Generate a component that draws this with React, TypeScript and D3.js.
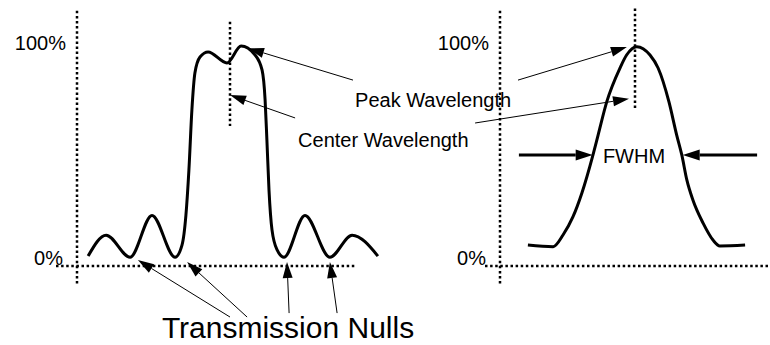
import React, { useEffect, useRef } from "react";
import * as d3 from "d3";

// left filter: passband with side lobes (wavelength units, % transmission)
const leftWavelength = [3.7, 9.7, 17.7, 25, 32.7, 35, 36.3, 37.3, 38.3, 39.3, 41, 43.7, 50, 54.7, 59.3, 61.7, 62.7, 63.3, 64, 65, 66.7, 69, 76, 84.3, 91.7, 100.3];
const leftTransmission = [4.5, 14, 4, 23, 4, 9.5, 23, 43.6, 71, 87.7, 95, 97.3, 92.3, 100, 96, 89, 75.5, 57.3, 34.5, 16.4, 7.3, 4, 23, 4, 14, 4.5];

// right filter: single bell-shaped peak
const rightWavelength = [9.3, 17.7, 21, 24.3, 27.3, 31, 32.7, 35.6, 40, 42.2, 45.6, 50, 52.7, 56.3, 58.9, 60.6, 62.3, 64.3, 67.7, 71, 73.3, 81.7];
const rightTransmission = [9.5, 8.8, 14.1, 22.3, 33.2, 50.5, 59.5, 74.7, 90, 95.9, 99.7, 95.9, 90, 74.7, 59.5, 50.5, 39, 30, 19.5, 11.8, 9.1, 9.5];

const yTickValues = [0, 100];
const yTickLabels = ["0%", "100%"];

// annotation arrows: [tailU, tailV, tipU, tipV]
const leftArrows = [
  [92, 84.5, 57, 99],
  [72.7, 67.3, 51, 77.7],
  [51, -23.2, 20.3, 2.7],
  [56.7, -23.2, 36.7, 1.8],
  [70.7, -21.4, 70, 1.8],
  [86.7, -21.4, 84.3, 1.8],
];
const rightArrows = [
  [6, 84.5, 42.3, 99.5],
  [-8.3, 65, 43, 76],
];
const fwhmArrows = [
  [6.3, 50.5, 30.9, 50.5],
  [85.7, 50.5, 60.9, 50.5],
];

const App: React.FC = () => {
  const ref = useRef<SVGSVGElement>(null);

  useEffect(() => {
    const svg = d3.select(ref.current);
    svg.selectAll("*").remove();

    const y = d3.scaleLinear().domain([0, 100]).range([266, 46]);
    const xLeft = d3.scaleLinear().domain([0, 100]).range([77, 377]);
    const xRight = d3.scaleLinear().domain([0, 100]).range([500, 800]);
    const font = "'Liberation Sans', Arial, sans-serif";

    const dotted = (x1: number, y1: number, x2: number, y2: number) =>
      svg
        .append("line")
        .attr("x1", x1)
        .attr("y1", y1)
        .attr("x2", x2)
        .attr("y2", y2)
        .attr("stroke", "#000")
        .attr("stroke-width", 2.5)
        .attr("stroke-dasharray", "2.5 2.6");

    const arrow = (
      x: d3.ScaleLinear<number, number>,
      a: number[],
      width: number,
      headLen: number,
      headHalf: number
    ) => {
      const x1 = x(a[0]), y1 = y(a[1]), x2 = x(a[2]), y2 = y(a[3]);
      const len = Math.hypot(x2 - x1, y2 - y1);
      const ux = (x2 - x1) / len, uy = (y2 - y1) / len;
      const bx = x2 - ux * headLen, by = y2 - uy * headLen;
      svg
        .append("line")
        .attr("x1", x1)
        .attr("y1", y1)
        .attr("x2", bx)
        .attr("y2", by)
        .attr("stroke", "#000")
        .attr("stroke-width", width);
      svg
        .append("polygon")
        .attr(
          "points",
          `${x2},${y2} ${bx - uy * headHalf},${by + ux * headHalf} ${bx + uy * headHalf},${by - ux * headHalf}`
        )
        .attr("fill", "#000");
    };

    const panel = (
      x: d3.ScaleLinear<number, number>,
      xs: number[],
      ys: number[],
      hFrom: number,
      hTo: number,
      centerU: number,
      centerTop: number,
      centerBottom: number
    ) => {
      // axes
      dotted(x(0), y(116), x(0), y(-9));
      dotted(x(hFrom), y(0), x(hTo), y(0));
      // center wavelength marker
      dotted(x(centerU), y(centerTop), x(centerU), y(centerBottom));

      yTickValues.forEach((v, i) => {
        svg
          .append("text")
          .attr("x", x(0) - (v === 0 ? 14 : 11))
          .attr("y", v === 0 ? y(v) - 1 : y(v) + 4)
          .attr("text-anchor", "end")
          .attr("font-family", font)
          .attr("font-size", 20)
          .attr("fill", "#000")
          .text(yTickLabels[i]);
      });

      const line = d3
        .line<number>()
        .x((d) => x(d))
        .y((_d, i) => y(ys[i]))
        .curve(d3.curveMonotoneX);

      svg
        .append("path")
        .attr("d", line(xs))
        .attr("fill", "none")
        .attr("stroke", "#000")
        .attr("stroke-width", 3)
        .attr("stroke-linejoin", "round");
    };

    panel(xLeft, leftWavelength, leftTransmission, -7, 93.3, 51, 111, 63.6);
    panel(xRight, rightWavelength, rightTransmission, -5, 90, 45, 117, 71);

    leftArrows.forEach((a) => arrow(xLeft, a, 1, 16, 5));
    rightArrows.forEach((a) => arrow(xRight, a, 1, 16, 5));
    fwhmArrows.forEach((a) => arrow(xRight, a, 3, 17, 5.5));

    const label = (
      x: d3.ScaleLinear<number, number>,
      u: number,
      v: number,
      size: number,
      txt: string
    ) =>
      svg
        .append("text")
        .attr("x", x(u))
        .attr("y", y(v))
        .attr("font-family", font)
        .attr("font-size", size)
        .attr("fill", "#000")
        .text(txt);

    label(xLeft, 92.7, 72.3, 20, "Peak Wavelength");
    label(xLeft, 73.7, 54, 20, "Center Wavelength");
    label(xRight, 34.3, 46.8, 20, "FWHM");
    label(xLeft, 28.3, -32.7, 30, "Transmission Nulls");
  }, []);

  return (
    <svg
      ref={ref}
      width={770}
      height={345}
      style={{ position: "absolute", left: 0, top: 0, background: "#fff" }}
    />
  );
};

export default App;
